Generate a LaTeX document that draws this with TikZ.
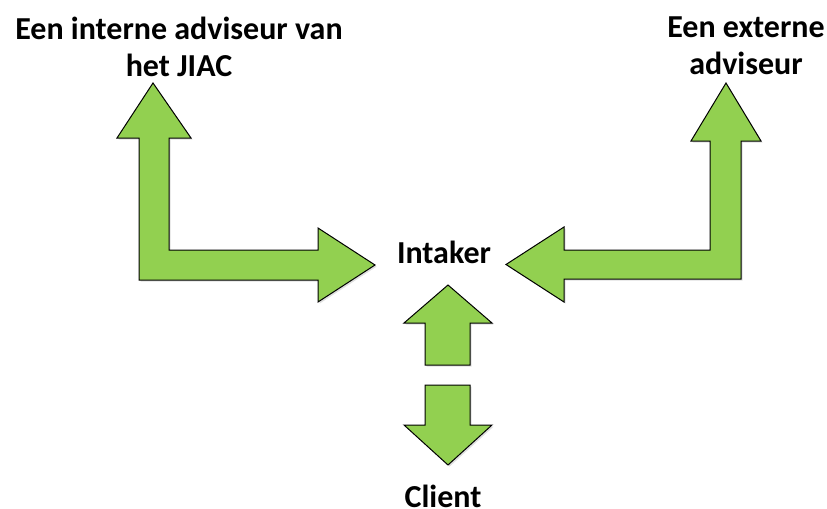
\documentclass[tikz,border=0pt]{standalone}
\usepackage{fontspec}
\setmainfont{Carlito}
\usetikzlibrary{shadows}
\definecolor{arrowgreen}{RGB}{146,208,80}

\begin{document}
\begin{tikzpicture}[x=0.5pt, y=-0.5pt, font=\bfseries\fontsize{16}{18.5}\selectfont,
	blockarrow/.style={fill=arrowgreen, draw=black, line width=0.5pt, line join=miter,
		drop shadow={opacity=0.25, shadow xshift=0.8pt, shadow yshift=-0.8pt}},
	label/.style={align=center, inner sep=0pt}]
	\useasboundingbox (0,0) rectangle (827,509);
	% texts
	\node[label] (intern) at (179,47) {Een interne adviseur van\\het JIAC};
	\node[label] (extern) at (746,46) {Een externe\\adviseur};
	\node[label] (intaker) at (444,252) {Intaker};
	\node[label] (client) at (443,496) {Client};
	% bent arrows
	\draw[blockarrow] (153,83) -- (191,138) -- (169,138) -- (169,250) -- (318,250) -- (318,228)
		-- (375,265) -- (318,302) -- (318,280) -- (139,280) -- (139,138) -- (117,138) -- cycle;
	\draw[blockarrow] (726,83) -- (761,141) -- (741,141) -- (741,279) -- (564,279) -- (564,302)
		-- (506,264.5) -- (564,227) -- (564,250) -- (710,250) -- (710,141) -- (691,141) -- cycle;
	% up and down
	\draw[blockarrow] (448,285) -- (492,323) -- (470,323) -- (470,365) -- (425,365) -- (425,323) -- (404,323) -- cycle;
	\draw[blockarrow] (425,385) -- (470,385) -- (470,425) -- (492,425) -- (448,465) -- (404,425) -- (425,425) -- cycle;
\end{tikzpicture}
\end{document}
